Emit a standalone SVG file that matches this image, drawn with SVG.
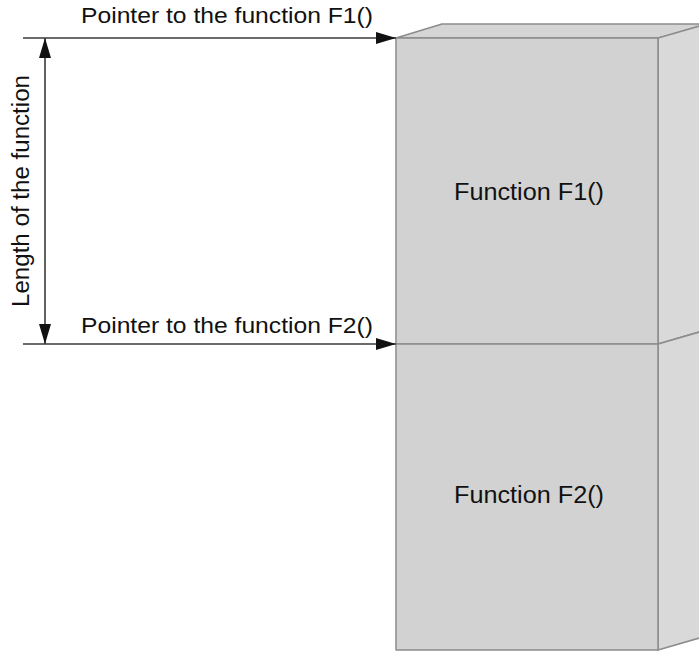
<svg xmlns="http://www.w3.org/2000/svg" width="699" height="651" viewBox="0 0 699 651">
  <defs>
    <marker id="head" viewBox="0 0 20 12" refX="20" refY="6" markerWidth="20" markerHeight="12" markerUnits="userSpaceOnUse" orient="auto-start-reverse">
      <path d="M0,0 L20,6 L0,12 Z" fill="#111"/>
    </marker>
    <style>
      .face { stroke: #8c8c8c; stroke-width: 1.5; stroke-linejoin: round; }
      .front { fill: #d2d2d2; }
      .top { fill: #d5d5d5; }
      .side { fill: #d9d9d9; }
      .conn { stroke: #3a3a3a; stroke-width: 1.6; fill: none; }
      .lbl { font-family: "Liberation Sans", Arial, sans-serif; font-size: 22px; fill: #111; }
      .big { font-size: 23px; }
    </style>
  </defs>
  <rect width="699" height="651" fill="#fff"/>

  <!-- stacked function blocks -->
  <g id="block-f1">
    <polygon class="face top" points="396,38 442,24 720,24 658,38"/>
    <polygon class="face side" points="658,38 720,20 720,326 658,344"/>
    <rect class="face front" x="396" y="38" width="262" height="306"/>
    <text class="lbl big" x="529" y="200" text-anchor="middle" textLength="150" lengthAdjust="spacingAndGlyphs">Function F1()</text>
  </g>
  <g id="block-f2">
    <polygon class="face side" points="658,344 720,326 720,632 658,650"/>
    <rect class="face front" x="396" y="344" width="262" height="306"/>
    <text class="lbl big" x="529" y="503" text-anchor="middle" textLength="150" lengthAdjust="spacingAndGlyphs">Function F2()</text>
  </g>

  <!-- pointers and length dimension -->
  <g id="connectors">
    <line class="conn" x1="23" y1="38" x2="396" y2="38" marker-end="url(#head)"/>
    <line class="conn" x1="23" y1="344" x2="396" y2="344" marker-end="url(#head)"/>
    <line class="conn" x1="45" y1="38" x2="45" y2="344" marker-start="url(#head)" marker-end="url(#head)"/>
  </g>

  <g id="labels">
    <text class="lbl" x="81" y="23" textLength="292" lengthAdjust="spacingAndGlyphs">Pointer to the function F1()</text>
    <text class="lbl" x="81" y="333" textLength="292" lengthAdjust="spacingAndGlyphs">Pointer to the function F2()</text>
    <text class="lbl big" transform="translate(29,191) rotate(-90)" x="0" y="0" text-anchor="middle" textLength="232" lengthAdjust="spacingAndGlyphs">Length of the function</text>
  </g>
</svg>
